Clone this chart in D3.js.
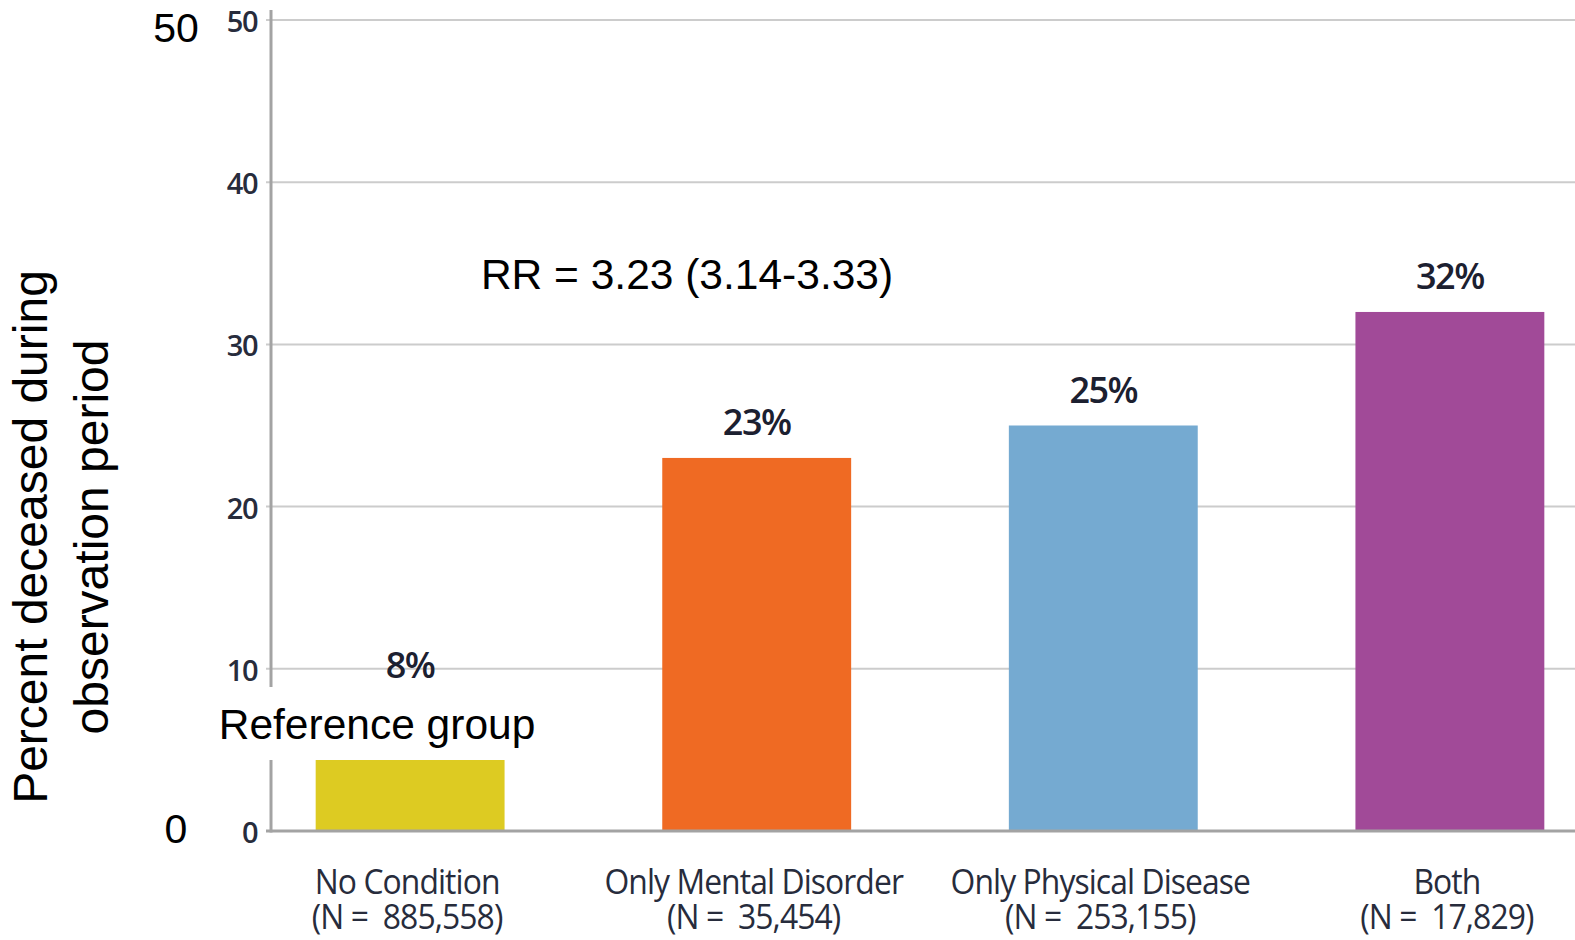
<!DOCTYPE html>
<html>
<head>
<meta charset="utf-8">
<script src="https://cdn.jsdelivr.net/npm/d3@7"></script>
<style>
  html, body { margin: 0; padding: 0; background: #fff; }
  svg { display: block; }
</style>
</head>
<body>
<svg id="chart" width="1575" height="940"></svg>
<script>
// Mortality by condition group
const categories = ["No Condition", "Only Mental Disorder", "Only Physical Disease", "Both"];
const sampleSizes = ["885,558", "35,454", "253,155", "17,829"];
const percentDeceased = [8, 23, 25, 32];
const yTickValues = [0, 10, 20, 30, 40, 50];
const outerTickValues = [0, 50];
const rrText = "RR = 3.23 (3.14-3.33)";
const referenceText = "Reference group";
const yTitleLines = ["Percent deceased during", "observation period"];

const palette = ["#ddcb22", "#ef6a23", "#75aad1", "#a14a98"];

const svg = d3.select("#chart");
const W = 1575, H = 940;

const axisX = 271;
const y = d3.scaleLinear().domain([0, 50]).range([831, 20]);
// baselines of the large outer axis labels
const yOuter = d3.scaleLinear().domain([0, 50]).range([843, 42]);
const x = d3.scaleBand()
  .domain(categories)
  .range([237, 1623])
  .paddingInner(0.455)
  .paddingOuter(0.227);

const chartFont = "'Open Sans', 'DejaVu Sans', sans-serif";
const inkColor = "#272c3c";
const overlayFont = "'Liberation Sans', Arial, sans-serif";

// horizontal gridlines with short ticks
const grid = svg.append("g");
grid.selectAll("line")
  .data(yTickValues.filter(v => v > 0))
  .join("line")
  .attr("x1", axisX - 5)
  .attr("x2", W)
  .attr("y1", d => y(d))
  .attr("y2", d => y(d))
  .attr("stroke", "#cccccc")
  .attr("stroke-width", 2);

// bars
svg.append("g").selectAll("rect")
  .data(categories)
  .join("rect")
  .attr("x", d => x(d))
  .attr("width", x.bandwidth())
  .attr("y", (d, i) => y(percentDeceased[i]))
  .attr("height", (d, i) => y(0) - y(percentDeceased[i]))
  .attr("fill", (d, i) => palette[i]);

// axis lines
svg.append("line")
  .attr("x1", axisX).attr("x2", axisX)
  .attr("y1", 10).attr("y2", y(0) + 1.5)
  .attr("stroke", "#a3a3a3").attr("stroke-width", 3);
svg.append("line")
  .attr("x1", axisX - 5).attr("x2", W)
  .attr("y1", y(0)).attr("y2", y(0))
  .attr("stroke", "#a3a3a3").attr("stroke-width", 3);

// y tick labels
svg.append("g").selectAll("text")
  .data(yTickValues)
  .join("text")
  .attr("x", 257)
  .attr("y", d => y(d) + 12)
  .attr("text-anchor", "end")
  .attr("font-family", chartFont)
  .attr("font-size", 29)
  .attr("font-weight", 600)
  .attr("letter-spacing", -1.5)
  .attr("fill", inkColor)
  .text(d => d);

// value labels above bars
svg.append("g").selectAll("text")
  .data(categories)
  .join("text")
  .attr("x", d => x(d) + x.bandwidth() / 2)
  .attr("y", (d, i) => y(percentDeceased[i]) - 23)
  .attr("text-anchor", "middle")
  .attr("font-family", chartFont)
  .attr("font-size", 36)
  .attr("font-weight", 600)
  .attr("letter-spacing", -1.5)
  .attr("fill", "#1c2030")
  .text((d, i) => percentDeceased[i] + "%");

// category labels (two lines, condensed)
const cat = svg.append("g").selectAll("g")
  .data(categories)
  .join("g")
  .attr("transform", d => `translate(${x(d) + x.bandwidth() / 2 - 3},0) scale(0.91,1)`);
cat.append("text")
  .attr("y", 894)
  .attr("text-anchor", "middle")
  .attr("font-family", chartFont)
  .attr("font-size", 35)
  .attr("font-weight", 500)
  .attr("letter-spacing", -1)
  .attr("fill", inkColor)
  .text(d => d);
cat.append("text")
  .attr("y", 929)
  .attr("text-anchor", "middle")
  .attr("font-family", chartFont)
  .attr("font-size", 35)
  .attr("font-weight", 500)
  .attr("letter-spacing", -1)
  .attr("fill", inkColor)
  .text((d, i) => `(N =\u00a0\u00a0${sampleSizes[i]})`);

// outer axis labels
svg.append("g").selectAll("text")
  .data(outerTickValues)
  .join("text")
  .attr("x", 176)
  .attr("y", d => yOuter(d))
  .attr("text-anchor", "middle")
  .attr("font-family", overlayFont)
  .attr("font-size", 41)
  .attr("fill", "#000")
  .text(d => d);

// y axis title
const yTitle = svg.append("text")
  .attr("transform", "translate(0,537) rotate(-90)")
  .attr("text-anchor", "middle")
  .attr("font-family", overlayFont)
  .attr("font-size", 48)
  .attr("fill", "#000");
yTitle.selectAll("tspan")
  .data(yTitleLines)
  .join("tspan")
  .attr("x", 0)
  .attr("y", (d, i) => 47 + i * 61)
  .text(d => d);

// relative risk annotation
svg.append("text")
  .attr("x", 687)
  .attr("y", 289)
  .attr("text-anchor", "middle")
  .attr("font-family", overlayFont)
  .attr("font-size", 42.5)
  .attr("fill", "#000")
  .text(rrText);

// reference group label on a white patch
svg.append("rect")
  .attr("x", 210).attr("y", 687)
  .attr("width", 337).attr("height", 73)
  .attr("fill", "#fff");
svg.append("text")
  .attr("x", 377)
  .attr("y", 739)
  .attr("text-anchor", "middle")
  .attr("font-family", overlayFont)
  .attr("font-size", 42.5)
  .attr("fill", "#000")
  .text(referenceText);
</script>
</body>
</html>
